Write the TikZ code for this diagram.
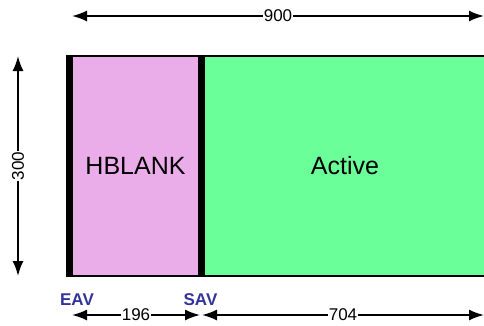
\documentclass[tikz,border=0pt]{standalone}
\usepackage{fontspec}
\setmainfont{Liberation Sans}
\usetikzlibrary{arrows.meta,positioning,calc}
\definecolor{hbpink}{RGB}{235,173,233}
\definecolor{actgreen}{RGB}{106,255,153}
\definecolor{markblue}{RGB}{51,51,153}

\begin{document}
\begin{tikzpicture}[x=1pt,y=-1pt,
region/.style={draw=black,line width=1.5pt,inner sep=0pt,minimum height=220pt,
font=\fontsize{25}{28}\selectfont},
bar/.style={line width=7pt},
dim/.style={{Latex[length=15pt,width=11pt]}-{Latex[length=15pt,width=11pt]},line width=1.8pt},
dimlabel/.style={fill=white,inner sep=1pt,font=\fontsize{17}{19}\selectfont},
marker/.style={text=markblue,font=\bfseries\fontsize{17}{19}\selectfont}]
\useasboundingbox (0,0) rectangle (484,325);
\node[region,fill=hbpink,minimum width=131pt] (hblank) at (135.5,166) {HBLANK};
\node[region,fill=actgreen,minimum width=288pt] (active) at (345,166) {Active};
\draw[bar] (hblank.north west)--(hblank.south west);
\draw[bar] (hblank.north east)--(hblank.south east);
% dimension lines
\coordinate (topl) at (72,16);
\coordinate (topr) at (484,16);
\coordinate (vtop) at (18,56);
\coordinate (vbot) at (18,276);
\coordinate (eav) at (72,315);
\coordinate (sav) at (200,315);
\coordinate (savr) at (202,315);
\coordinate (endr) at (484,315);
\draw[dim] (topl)--node[dimlabel]{900}(topr);
\draw[dim] (vtop)--node[dimlabel,rotate=90]{300}(vbot);
\draw[dim] (eav)--node[dimlabel]{196}(sav);
\draw[dim] (savr)--node[dimlabel]{704}(endr);
\node[marker] (eavlabel) at (77,300) {EAV};
\node[marker] (savlabel) at (200.5,300) {SAV};
\end{tikzpicture}
\end{document}
